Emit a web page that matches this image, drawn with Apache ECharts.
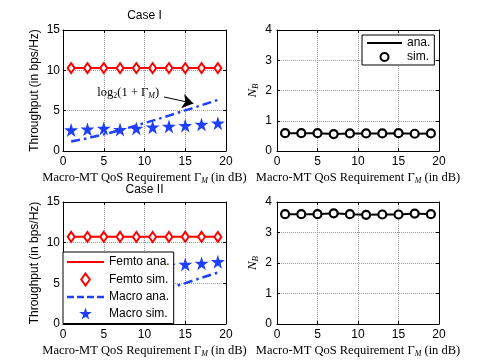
<!DOCTYPE html>
<html><head><meta charset="utf-8">
<script src="https://cdn.jsdelivr.net/npm/echarts@6/dist/echarts.min.js"></script>
<style>html,body{margin:0;padding:0;background:#fff}#c{width:485px;height:364px}</style>
</head><body><div id="c"></div>
<script>
// ---- data ----
const gammaDb = [1, 3, 5, 7, 9, 11, 13, 15, 17, 19];
const xTickLabels = ['0', '5', '10', '15', '20'];
const thrTickLabels = ['0', '5', '10', '15'];
const nbTickLabels = ['0', '1', '2', '3', '4'];

// Case I
const femtoAnaI = [10.28, 10.28, 10.28, 10.28, 10.28, 10.28, 10.28, 10.28, 10.28, 10.28];
const femtoSimI = [10.28, 10.27, 10.28, 10.27, 10.28, 10.27, 10.28, 10.27, 10.28, 10.28];
const macroAnaI = [1.18, 1.58, 2.06, 2.59, 3.16, 3.76, 4.39, 5.03, 5.68, 6.33];
const macroSimI = [2.6, 2.7, 2.8, 2.65, 2.8, 2.95, 3.05, 3.15, 3.3, 3.45];
const nbAnaI = [0.59, 0.59, 0.59, 0.56, 0.58, 0.58, 0.58, 0.59, 0.57, 0.58];
const nbSimI = [0.59, 0.59, 0.59, 0.56, 0.58, 0.58, 0.58, 0.59, 0.57, 0.58];

// Case II
const femtoAnaII = [10.72, 10.72, 10.72, 10.72, 10.72, 10.72, 10.72, 10.72, 10.72, 10.72];
const femtoSimII = [10.72, 10.71, 10.72, 10.72, 10.71, 10.7, 10.71, 10.72, 10.72, 10.71];
const macroAnaII = [1.18, 1.58, 2.06, 2.59, 3.16, 3.76, 4.39, 5.03, 5.68, 6.33];
const macroSimII = [6.6, 6.8, 6.9, 7.0, 7.05, 7.1, 7.2, 7.33, 7.46, 7.65];
const nbAnaII = [3.6, 3.6, 3.6, 3.63, 3.6, 3.58, 3.59, 3.59, 3.62, 3.6];
const nbSimII = [3.6, 3.6, 3.6, 3.63, 3.6, 3.58, 3.59, 3.59, 3.62, 3.6];

// annotation (data coordinates of top-left panel)
const annoText = [8.0, 7.2];
const annoArrowFrom = [12.4, 6.7];
const annoArrowTo = [16.0, 5.9];

// ---- chart ----
const pair = arr => gammaDb.map((x, i) => [x, arr[i]]);
const SANS = 'Liberation Sans';
const SERIF = 'Liberation Serif';
const RED = '#ff0000';
const BLUE = '#1f3fff';
const STAR = 'path://M50,0 L61.2,34.5 L97.6,34.5 L68.2,55.9 L79.4,90.5 L50,69.1 L20.6,90.5 L31.8,55.9 L2.4,34.5 L38.8,34.5 Z';
const DIAMOND = 'path://M5,0 L10,7 L5,14 L0,7 Z';
const SOLID_ICON = 'path://M0,0 h37 v2 h-37 Z';
const DASH_ICON = 'path://M0,0 h7 v2.5 h-7 Z M10,0 h7 v2.5 h-7 Z M20,0 h7 v2.5 h-7 Z M30,0 h7 v2.5 h-7 Z';

const grids = [
  {left: 63, top: 30, width: 163, height: 121},
  {left: 277, top: 30, width: 162, height: 121},
  {left: 63, top: 202, width: 163, height: 122},
  {left: 277, top: 202, width: 162, height: 122}
];

const xName = 'Macro-MT QoS Requirement Γ{s|M} (in dB)';
const xNameStyle = {
  fontFamily: SERIF, fontSize: 12.5, color: '#000', lineHeight: 14,
  rich: {s: {fontFamily: SERIF, fontStyle: 'italic', fontSize: 8, lineHeight: 8, verticalAlign: 'bottom', color: '#000'}}
};

function xAxes(gi) {
  const base = {
    gridIndex: gi, type: 'value', min: 0, max: 20, interval: 5,
    axisLine: {show: true, onZero: false, lineStyle: {color: '#000', width: 1}},
    axisTick: {show: true, inside: true, length: 3, lineStyle: {color: '#000'}},
  };
  return [
    Object.assign({}, base, {
      position: 'bottom',
      axisLabel: {color: '#000', fontFamily: SANS, fontSize: 12, margin: 5,
        formatter: v => xTickLabels[xTickLabels.indexOf(String(v))] || ''},
      splitLine: {show: true, lineStyle: {type: 'dotted', color: '#9a9a9a', width: 1}},
      name: xName, nameLocation: 'middle', nameGap: 20, nameTextStyle: xNameStyle
    }),
    Object.assign({}, base, {position: 'top', axisLabel: {show: false}, splitLine: {show: false}})
  ];
}

function yAxes(gi, max, interval, labels, isNb) {
  const base = {
    gridIndex: gi, type: 'value', min: 0, max: max, interval: interval,
    axisLine: {show: true, onZero: false, lineStyle: {color: '#000', width: 1}},
    axisTick: {show: true, inside: true, length: 3, lineStyle: {color: '#000'}},
  };
  const left = Object.assign({}, base, {
    position: 'left',
    axisLabel: {color: '#000', fontFamily: SANS, fontSize: 12, margin: isNb ? 5 : 3,
      formatter: v => labels[labels.indexOf(String(v))] || ''},
    splitLine: {show: true, lineStyle: {type: 'dotted', color: '#9a9a9a', width: 1}},
    nameLocation: 'middle', nameRotate: 90
  });
  if (isNb) {
    left.name = '{n|N}{b|B}';
    left.nameGap = 17;
    left.nameTextStyle = {color: '#000', lineHeight: 14,
      rich: {
        n: {fontFamily: SERIF, fontStyle: 'italic', fontSize: 13, lineHeight: 14, color: '#000'},
        b: {fontFamily: SERIF, fontStyle: 'italic', fontSize: 9, lineHeight: 9, verticalAlign: 'bottom', color: '#000'}
      }};
  } else {
    left.name = 'Throughput (in bps/Hz)';
    left.nameGap = 22;
    left.nameTextStyle = {color: '#000', fontFamily: SANS, fontSize: 12};
  }
  return [left, Object.assign({}, base, {position: 'right', axisLabel: {show: false}, splitLine: {show: false}})];
}

const xAxis = [].concat(xAxes(0), xAxes(1), xAxes(2), xAxes(3));
const yAxis = [].concat(
  yAxes(0, 15, 5, thrTickLabels, false),
  yAxes(1, 4, 1, nbTickLabels, true),
  yAxes(2, 15, 5, thrTickLabels, false),
  yAxes(3, 4, 1, nbTickLabels, true)
);

function throughputSeries(gi, fAna, fSim, mAna, mSim, withAnno) {
  const ax = {xAxisIndex: gi * 2, yAxisIndex: gi * 2};
  const macroAna = Object.assign({
    name: 'Macro ana.', type: 'line', data: pair(mAna), symbol: 'none',
    lineStyle: {color: BLUE, width: 2.5, type: [9, 4, 2.5, 4]}, itemStyle: {color: BLUE}, z: 2
  }, ax);
  if (withAnno) {
    macroAna.markLine = {
      silent: true, symbol: ['none', 'arrow'], symbolSize: 11,
      lineStyle: {color: '#000', type: 'solid', width: 1},
      itemStyle: {color: '#000'},
      label: {show: false},
      data: [[{coord: annoArrowFrom}, {coord: annoArrowTo}]]
    };
    macroAna.markPoint = {
      silent: true, symbol: 'circle', symbolSize: 0,
      data: [{coord: annoText}],
      label: {
        show: true, position: 'inside', color: '#000',
        formatter: '{t|log}{s|2}{t|(1 + Γ}{si|M}{t|)}',
        rich: {
          t: {fontFamily: SERIF, fontSize: 12.5, lineHeight: 14, color: '#000'},
          s: {fontFamily: SERIF, fontSize: 8, lineHeight: 8, verticalAlign: 'bottom', color: '#000'},
          si: {fontFamily: SERIF, fontStyle: 'italic', fontSize: 8, lineHeight: 8, verticalAlign: 'bottom', color: '#000'}
        }
      }
    };
  }
  return [
    Object.assign({name: 'Femto ana.', type: 'line', data: pair(fAna), symbol: 'none',
      lineStyle: {color: RED, width: 2}, itemStyle: {color: RED}, z: 2}, ax),
    macroAna,
    Object.assign({name: 'Femto sim.', type: 'scatter', data: pair(fSim), symbol: 'diamond', symbolSize: [7, 10],
      itemStyle: {color: '#fff', borderColor: RED, borderWidth: 2, opacity: 1}, z: 3}, ax),
    Object.assign({name: 'Macro sim.', type: 'scatter', data: pair(mSim), symbol: STAR, symbolSize: 14,
      itemStyle: {color: BLUE, opacity: 1}, z: 3}, ax)
  ];
}

function nbSeries(gi, ana, sim) {
  const ax = {xAxisIndex: gi * 2, yAxisIndex: gi * 2};
  return [
    Object.assign({name: 'ana.', type: 'line', data: pair(ana), symbol: 'none',
      lineStyle: {color: '#000', width: 2}, itemStyle: {color: '#000'}, z: 2}, ax),
    Object.assign({name: 'sim.', type: 'scatter', data: pair(sim), symbol: 'circle', symbolSize: 8,
      itemStyle: {color: '#fff', borderColor: '#000', borderWidth: 2.2, opacity: 1}, z: 3}, ax)
  ];
}

const series = [].concat(
  throughputSeries(0, femtoAnaI, femtoSimI, macroAnaI, macroSimI, true),
  nbSeries(1, nbAnaI, nbSimI),
  throughputSeries(2, femtoAnaII, femtoSimII, macroAnaII, macroSimII, false),
  nbSeries(3, nbAnaII, nbSimII)
);

const legendText = {color: '#000', fontFamily: SANS, fontSize: 12};
const option = {
  animation: false,
  backgroundColor: '#fff',
  title: [
    {text: 'Case I', left: 144.5, top: 10, textAlign: 'center', padding: 0,
      textStyle: {fontFamily: SANS, fontSize: 12, fontWeight: 'normal', color: '#000'}},
    {text: 'Case II', left: 144.5, top: 184, textAlign: 'center', padding: 0,
      textStyle: {fontFamily: SANS, fontSize: 12, fontWeight: 'normal', color: '#000'}}
  ],
  grid: grids,
  xAxis: xAxis,
  yAxis: yAxis,
  legend: [
    {
      orient: 'vertical', left: 362, top: 35, padding: [2, 4, 2, 5], itemGap: 2,
      itemWidth: 35, itemHeight: 8, selectedMode: false,
      backgroundColor: '#fff', borderColor: '#000', borderWidth: 1, borderRadius: 0,
      textStyle: legendText,
      data: [
        {name: 'ana.', icon: SOLID_ICON, itemStyle: {color: '#000', borderWidth: 0}},
        {name: 'sim.', icon: 'circle', itemStyle: {color: '#fff', borderColor: '#000', borderWidth: 2, opacity: 1}}
      ]
    },
    {
      orient: 'vertical', left: 63, top: 252, padding: [4, 4, 4, 4], itemGap: 4.5,
      itemWidth: 37, itemHeight: 12, selectedMode: false,
      backgroundColor: '#fff', borderColor: '#000', borderWidth: 1, borderRadius: 0,
      textStyle: legendText,
      data: [
        {name: 'Femto ana.', icon: SOLID_ICON, itemStyle: {color: RED, borderWidth: 0}},
        {name: 'Femto sim.', icon: DIAMOND, itemStyle: {color: '#fff', borderColor: RED, borderWidth: 2, opacity: 1}},
        {name: 'Macro ana.', icon: DASH_ICON, itemStyle: {color: BLUE, borderWidth: 0}},
        {name: 'Macro sim.', icon: STAR, itemStyle: {color: BLUE, borderWidth: 0, opacity: 1}}
      ]
    }
  ],
  series: series
};

const chart = echarts.init(document.getElementById('c'), null, {renderer: 'canvas'});
chart.setOption(option);
</script></body></html>
